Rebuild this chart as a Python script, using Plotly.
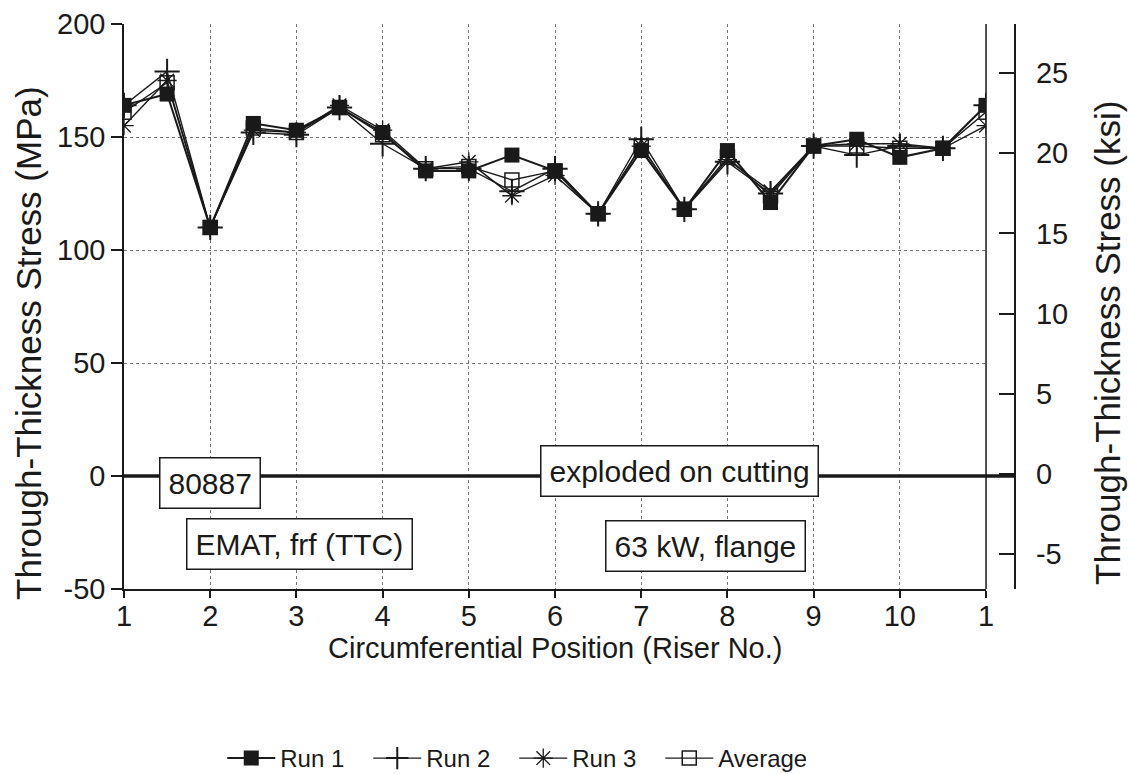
import plotly.graph_objects as go

# Circumferential positions (riser numbers, half steps between risers)
positions = [1, 1.5, 2, 2.5, 3, 3.5, 4, 4.5, 5, 5.5, 6, 6.5, 7, 7.5, 8, 8.5, 9, 9.5, 10, 10.5, 11]
tick_vals = [1, 2, 3, 4, 5, 6, 7, 8, 9, 10, 11]
tick_text = ["1", "2", "3", "4", "5", "6", "7", "8", "9", "10", "1"]

run1 = [164, 169, 110, 156, 153, 163, 152, 135, 135, 142, 135, 116, 144, 118, 144, 121, 146, 149, 141, 145, 164]
run2 = [164, 179, 110, 152, 151, 163, 147, 136, 136, 126, 136, 116, 149, 118, 139, 125, 146, 142, 146, 145, 164]
run3 = [155, 175, 110, 153, 152, 164, 153, 136, 139, 124, 133, 116, 146, 118, 140, 126, 146, 147, 147, 145, 155]
average = [161, 174, 110, 154, 152, 163, 151, 136, 137, 131, 135, 116, 146, 118, 141, 124, 146, 146, 145, 145, 161]

mpa_ticks = [-50, 0, 50, 100, 150, 200]
mpa_text = ["-50", "0", "50", "100", "150", "200"]
ksi_ticks = [-5, 0, 5, 10, 15, 20, 25]
ksi_text = ["-5", "0", "5", "10", "15", "20", "25"]

FONT = "Liberation Sans, Arial, sans-serif"
INK = "#1a1a1a"

fig = go.Figure()

fig.add_trace(go.Scatter(x=positions, y=run1, name="Run 1", mode="lines+markers",
                         line=dict(color=INK, width=2),
                         marker=dict(symbol="square", size=15, color=INK)))
fig.add_trace(go.Scatter(x=positions, y=run2, name="Run 2", mode="lines+markers",
                         line=dict(color=INK, width=1.4),
                         marker=dict(symbol="cross-thin-open", size=18, color=INK,
                                     line=dict(color=INK, width=2))))
fig.add_trace(go.Scatter(x=positions, y=run3, name="Run 3", mode="lines+markers",
                         line=dict(color=INK, width=1.4),
                         marker=dict(symbol="asterisk-open", size=16, color=INK,
                                     line=dict(color=INK, width=1.3))))
fig.add_trace(go.Scatter(x=positions, y=average, name="Average", mode="lines+markers",
                         line=dict(color=INK, width=1.4),
                         marker=dict(symbol="square-open", size=14, color=INK,
                                     line=dict(color=INK, width=1.5))))

# ghost trace to activate the right axis
fig.add_trace(go.Scatter(x=[positions[0]], y=[ksi_ticks[1]], yaxis="y2", mode="markers",
                         marker=dict(opacity=0), showlegend=False, hoverinfo="skip"))

fig.update_layout(
    width=1129, height=774,
    margin=dict(l=124, r=114, t=24, b=185, autoexpand=False),
    paper_bgcolor="white", plot_bgcolor="white",
    font=dict(family=FONT, size=29, color=INK),
    showlegend=True,
    legend=dict(orientation="h", x=0.438, xanchor="center", y=-0.30, yanchor="middle",
                font=dict(size=24), itemwidth=48, entrywidth=83, entrywidthmode="pixels",
                tracegroupgap=0, bgcolor="rgba(0,0,0,0)"),
    xaxis=dict(domain=[0, 0.9675], range=[1, 11], tickmode="array",
               tickvals=tick_vals, ticktext=tick_text, automargin=False,
               showline=True, linecolor=INK, linewidth=1.5,
               ticks="outside", ticklen=7, tickcolor=INK, tickwidth=1.5,
               ticklabelstandoff=-7,
               showgrid=True, gridcolor="#777", griddash="dot", gridwidth=1,
               zeroline=False,
               tickfont=dict(size=29)),
    yaxis=dict(range=[-50, 200], tickmode="array", tickvals=mpa_ticks, ticktext=mpa_text,
               automargin=False,
               showline=True, linecolor=INK, linewidth=1.5,
               ticks="outside", ticklen=11, tickcolor=INK, tickwidth=1.5,
               showgrid=True, gridcolor="#777", griddash="dot", gridwidth=1,
               zeroline=False,
               tickfont=dict(size=29)),
    yaxis2=dict(overlaying="y", side="right", anchor="free", position=1.0,
                range=[-7.17, 28.05], tickmode="array", tickvals=ksi_ticks, ticktext=ksi_text,
                automargin=False,
                showline=True, linecolor=INK, linewidth=2.2,
                ticks="inside", ticklen=15, tickcolor=INK, tickwidth=1.5,
                ticklabelstandoff=14,
                showgrid=False, zeroline=False,
                tickfont=dict(size=29)),
)

# heavy zero reference line running across to the right-hand axis
fig.add_shape(type="line", xref="paper", yref="y", x0=0, x1=1, y0=0, y1=0,
              line=dict(color=INK, width=3.5), layer="above")
# right-hand frame of the plotting area
fig.add_shape(type="line", xref="x domain", yref="y domain", x0=1, x1=1, y0=0, y1=1,
              line=dict(color=INK, width=1.5), layer="below")

# axis titles
fig.add_annotation(text="Circumferential Position (Riser No.)", showarrow=False,
                   xref="x domain", yref="paper", x=0.5, y=-0.104, xanchor="center", yanchor="middle",
                   font=dict(size=29, color=INK))
fig.add_annotation(text="Through-Thickness Stress (MPa)", textangle=-90, showarrow=False,
                   xref="paper", yref="paper", x=-0.107, y=0.435, xanchor="center", yanchor="middle",
                   font=dict(size=35, color=INK))
fig.add_annotation(text="Through-Thickness Stress (ksi)", textangle=-90, showarrow=False,
                   xref="paper", yref="paper", x=1.104, y=0.435, xanchor="center", yanchor="middle",
                   font=dict(size=35, color=INK))

box = dict(showarrow=False, bgcolor="white", bordercolor=INK, borderwidth=1.5,
           font=dict(size=30, color=INK), xref="x", yref="y")
fig.add_annotation(text="80887", x=2.0, y=-3, borderpad=8, **box)
fig.add_annotation(text="EMAT, frf (TTC)", x=3.04, y=-30, borderpad=8, **box)
fig.add_annotation(text="exploded on cutting", x=7.44, y=2, borderpad=8, **box)
fig.add_annotation(text="63 kW, flange", x=7.75, y=-31, borderpad=8, **box)

fig.write_html("out.html")
